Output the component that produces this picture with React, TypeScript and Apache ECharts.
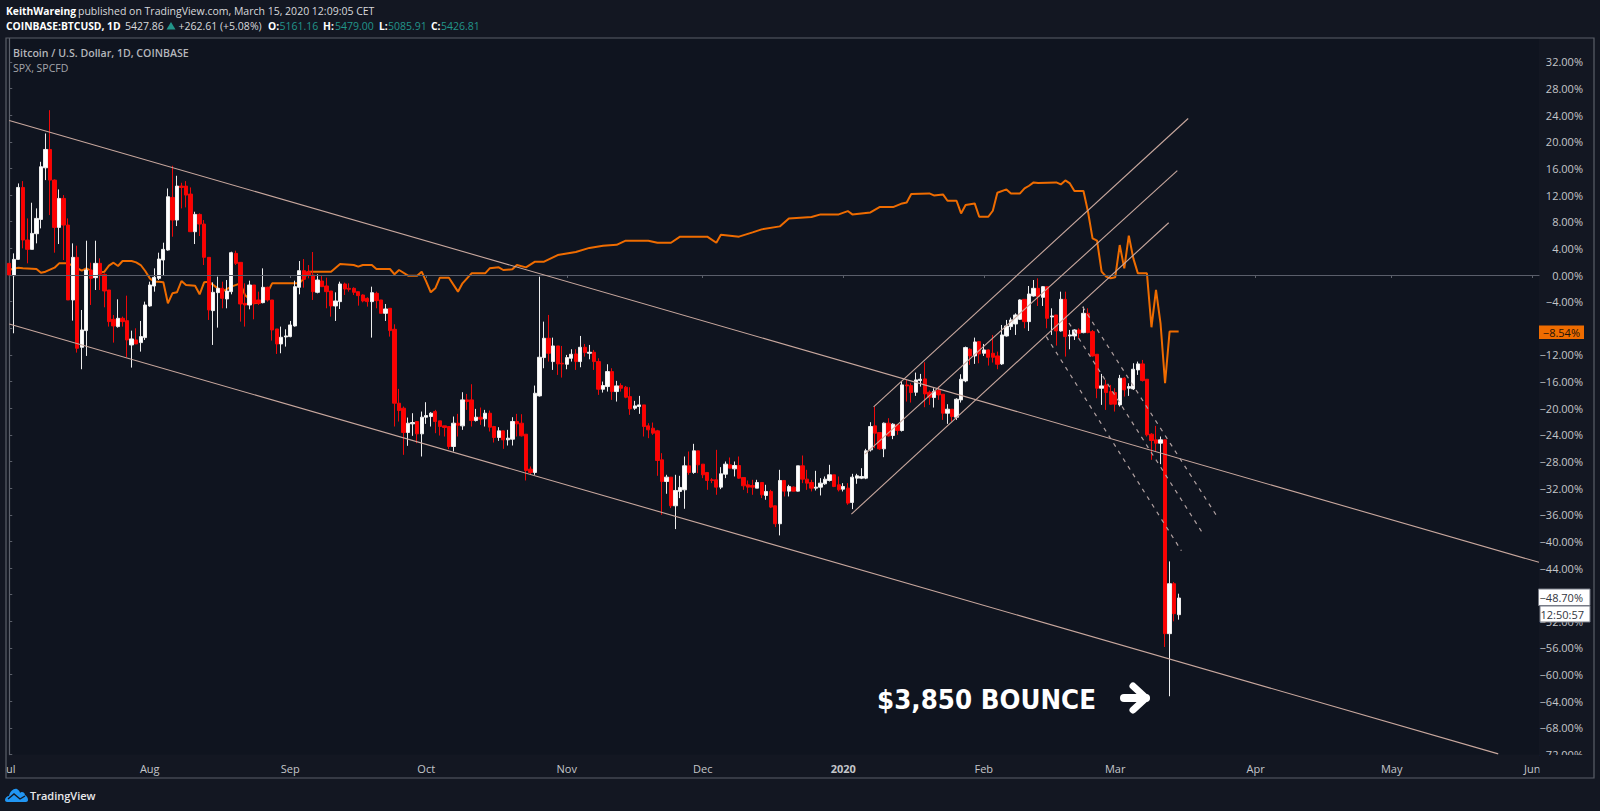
import React, { useEffect, useRef } from "react";
import * as echarts from "echarts";

// Candles are [open, close, low, high], in percent of the chart's base price, one per day from 1 Jul 2019.
const jul19 = [
[1.75,0,0,1.75],[-0.1,2.35,-8.75,3.25],[2.35,13.15,2.3,13.75],[13.15,5.25,4,14.1],[5.25,3.85,1.75,8.5],[3.85,6.25,3.85,10.85],[6.2,8.5,4.75,10],[8.35,16.25,7,17],[16.1,18.85,14.25,21.25],[18.85,14.25,9,24.75],
[14.25,7.15,3.35,14.35],[7.15,11.5,4.65,12.85],[11.5,7.5,2.25,12],[7.5,-3.75,-3.75,8.5],[-3.75,2.65,-6.85,4.75],[2.65,-11,-11.65,4.4],[-10.85,-8.25,-14.15,-5.25],[-8.35,0.75,-12.15,5.15],[0.75,-0.5,-4.5,1.85],[-0.4,1.75,-2.25,5.15],
[1.75,0.1,-2.25,2.5],[0.1,-2.4,-4.85,0.25],[-2.25,-7,-7.75,-2.25],[-6.65,-7.65,-10.15,-6],[-7.75,-6.5,-7.9,-3.65],[-6.5,-7,-7.75,-6.25],[-6.85,-9.75,-12.35,-3.1],[-10.5,-9.6,-13.9,-8.35],[-9.75,-10.35,-10.35,-8],[-10.15,-9.25,-11.5,-6.9],[-9.4,-4.5,-9.75,-4],
];
const aug19 = [
[-4.65,-1.5,-4.75,-1],[-1.65,-0.35,-2.5,1],[-0.5,2.4,-0.75,3.35],[2.25,3.85,-0.15,4.85],[3.75,11.75,3.65,13],[11.65,8.25,5.75,16.4],[8.25,13.35,7.35,14.9],[13.35,13.15,10,13.85],[13.35,12,10.15,14.1],[12.15,6.5,6.5,13.15],
[6.5,9.1,4.65,9.5],[9.1,7.65,5.85,9.25],[7.65,2.65,1.5,8.25],[2.65,-5.25,-6.75,2.65],[-5.35,-2.6,-10.5,-1.1],[-2.65,-2,-7.9,-0.25],[-2,-3.5,-5,-1],[-3.6,-2.4,-5,-0.75],[-2.5,3.35,-2.9,3.5],[3.25,1.75,1.5,3.65],
[1.9,-4.35,-7,1.9],[-4.25,-4.5,-7.75,-1.25],[-4.5,-1.5,-5.15,-0.85],[-1.5,-4.25,-6.65,-1.5],[-3.75,-4.25,-4.5,-2.5],[-4.15,-1.85,-4.25,1],[-1.85,-3.75,-4,-1.75],[-3.75,-8.25,-9.85,-3.75],[-8.1,-10.35,-11.85,-8.1],[-10.35,-9.35,-11.75,-7.75],[-9.3,-9.15,-10.75,-8.15],
];
const sep19 = [
[-9.25,-7.5,-9.35,-6.9],[-7.65,-1.75,-7.75,-0.85],[-1.85,0.65,-2.9,2.1],[0.65,-0.65,-1.9,2.4],[0.5,0,-0.5,1.5],[0,-2.5,-3.75,3.45],[-2.6,-0.75,-2.75,0.1],[-0.9,-1.75,-1.75,-0.15],[-1.65,-2.5,-5,-0.4],[-2.4,-4.65,-6.25,-2.4],
[-4.65,-3.9,-6.9,-2.6],[-4,-1.35,-5.1,-1],[-1.35,-2.1,-3,-1.15],[-2,-2.15,-2.5,-1.25],[-2,-2.6,-3,-1.85],[-2.5,-3.1,-4.6,-2.5],[-3,-3.9,-4.1,-2.9],[-3.5,-4,-4.75,-3.35],[-4,-2.65,-9.4,-1.75],[-2.75,-3.85,-5,-2.5],
[-3.75,-5.75,-5.75,-3.75],[-5.75,-5.1,-6.9,-4.35],[-5,-8.35,-9.25,-5],[-8.15,-19.25,-22.75,-7.4],[-19.25,-20.35,-22,-17.1],[-20,-23.65,-27,-19.75],[-23.65,-22.25,-25.65,-21.4],[-22.35,-22.15,-24.15,-20.75],[-22,-23.85,-25.25,-22],[-23.85,-21.35,-27.25,-20.5],
];
const oct19 = [
[-21.35,-21.1,-22.35,-19.1],[-21.25,-20.75,-22.75,-20.6],[-20.5,-22,-23.75,-20.25],[-21.9,-22.75,-24.1,-21.9],[-22.65,-22.9,-24.25,-22.65],[-22.75,-25.75,-26.15,-22.75],[-25.75,-22.25,-26.5,-21.25],[-22.25,-22.55,-24.25,-20.85],[-22.65,-18.75,-23.25,-17.6],[-18.75,-19,-20.25,-17.85],
[-18.75,-21.85,-22.75,-16.4],[-21.85,-21.35,-22,-20.1],[-21.35,-21.65,-22.5,-19.9],[-21.6,-20.75,-22.75,-20.25],[-20.75,-22.85,-23.5,-20.35],[-22.75,-24.4,-25.15,-22.65],[-24.4,-23.4,-24.9,-22.85],[-23.4,-24.75,-26.1,-23.4],[-24.75,-24.5,-25.6,-23.25],[-24.65,-22,-25.6,-21.35],
[-22,-22.35,-24.25,-20.85],[-22.25,-24.15,-24.25,-20.9],[-23.9,-29.35,-30.85,-23.9],[-29.15,-29.65,-30,-28.75],[-29.65,-17.75,-30,-16.6],[-18.15,-12.35,-18.25,-0.25],[-12.4,-9.5,-14,-7],[-9.5,-11.75,-13,-6],[-13,-10.65,-14.25,-9.4],[-10.65,-13.35,-15,-10.65],[-13.25,-13.35,-15.4,-10.65],
];
const nov19 = [
[-13.4,-12.4,-14.15,-12],[-12.5,-11.9,-13,-11.15],[-11.85,-13,-14.25,-11.15],[-13,-10.85,-13.85,-9.15],[-10.85,-11.65,-12.25,-10.35],[-11.75,-11.6,-12.65,-10.5],[-11.6,-13,-14.25,-11.25],[-13,-17.15,-18,-12.5],[-17.15,-16.6,-17.65,-16],[-16.75,-14.5,-17.5,-13.4],
[-14.5,-17.5,-18.75,-14],[-17.5,-16.65,-19,-15.9],[-16.6,-17,-17.5,-16.25],[-16.85,-18.35,-18.5,-16.65],[-18.25,-20.1,-21,-16.85],[-20,-19.65,-20.25,-18.9],[-19.75,-19.5,-20.85,-18.15],[-19.5,-22.75,-24.25,-19.5],[-22.65,-23.25,-24.5,-22.25],[-23,-23.75,-24,-22.15],
[-23.4,-27.85,-30.15,-23.25],[-27.75,-31,-36,-26.75],[-31,-30.35,-32.85,-30],[-30.35,-34.65,-35,-30.35],[-34.65,-32.35,-38.15,-30],[-32.5,-31.9,-33.5,-30.15],[-32.25,-28.65,-35.1,-27.25],[-28.65,-29.65,-30,-26.5],[-29.65,-26.4,-29.85,-25.35],[-26.4,-28.5,-29.75,-26.4],
];
const dec19 = [
[-28.4,-30,-30.5,-28.4],[-29.65,-30.85,-32.25,-29.65],[-30.75,-30.85,-31.25,-30.5],[-30.75,-31.85,-33,-26.25],[-31.85,-29.85,-32.15,-28.85],[-29.9,-28.4,-30.5,-28],[-28.5,-29,-29,-27.4],[-29.1,-28.6,-30.25,-28],[-28.6,-30.5,-30.6,-27.25],[-30.4,-31.65,-32.25,-30.4],
[-31.5,-31.85,-32.75,-30.85],[-31.6,-31.85,-33,-30.75],[-32,-31.15,-32,-30.75],[-31.15,-33,-33.5,-31.15],[-33.1,-32.5,-33.75,-31.5],[-32.5,-34.85,-35,-32.25],[-34.65,-37.35,-37.85,-34.65],[-37.35,-30.85,-39.1,-29.25],[-30.85,-32.45,-33.25,-30.85],[-32.45,-31.75,-33.25,-31.5],
[-31.85,-32.45,-32.5,-31.75],[-32.45,-28.65,-32.5,-28.65],[-28.65,-30.65,-31.25,-27.1],[-30.65,-31.25,-32.25,-29.25],[-31.15,-32,-32.5,-30.75],[-32,-31.85,-32.35,-29.4],[-31.85,-31.25,-33.1,-30.5],[-31.35,-30.65,-31.5,-30.25],[-30.85,-30,-31,-28.5],[-30,-31.75,-31.85,-30],[-31.5,-32.25,-32.5,-30.25],
];
const jan20 = [
[-32.15,-31.75,-32.5,-31.25],[-32,-34.25,-34.5,-31.25],[-34.15,-30.35,-35.15,-29.85],[-30.5,-30.15,-31.35,-29.85],[-30.5,-30.25,-30.65,-29],[-30.5,-26.4,-30.65,-26.1],[-26.25,-22.75,-26.5,-22.1],[-22.65,-23.75,-26,-19.75],[-23.65,-26.1,-26.25,-23.65],[-26.1,-22.25,-27.35,-22.15],
[-22.25,-24.15,-24.25,-21.5],[-24.1,-22.4,-24.65,-22.25],[-22.5,-23.35,-24,-22.35],[-23.35,-16.5,-23.5,-16],[-16.5,-16.65,-19,-15.75],[-16.6,-17.65,-19.15,-16.25],[-17.6,-15.75,-18.15,-14.65],[-15.85,-15.65,-16.75,-14.85],[-15.6,-17.85,-19.85,-13.1],[-17.6,-18.35,-19.5,-17.35],
[-18.4,-17.5,-19.9,-17],[-17.35,-18,-18.75,-16.75],[-17.9,-20.75,-21.75,-17.9],[-20.75,-20.15,-22.35,-19.4],[-20.15,-21.25,-22,-20.15],[-21.35,-18.65,-21.75,-18.5],[-18.75,-15.65,-19.15,-14.9],[-15.9,-10.9,-16.1,-10.75],[-11.15,-12.15,-13.5,-11],[-12.15,-10.05,-13.35,-9.4],[-10,-11.85,-13.25,-9.9],
];
const feb20 = [
[-11.75,-11.25,-12.15,-10.35],[-11.25,-12.35,-13.6,-11.15],[-11.75,-12.35,-13.15,-9],[-12.15,-13.4,-14.15,-11.5],[-13.35,-9,-13.5,-7.5],[-9.15,-7.65,-9.25,-6.75],[-7.75,-6.75,-8.25,-6.4],[-7.35,-6,-9,-5.75],[-6.65,-3.75,-6.75,-3.65],[-3.65,-7,-8,-3.65],
[-7,-2.85,-8.4,-1.65],[-3.15,-2,-3.25,-0.75],[-2,-3.25,-4.65,-0.5],[-3.35,-1.75,-4.65,-1.65],[-1.75,-6.5,-8,-1.75],[-6.3,-6.15,-9,-5],[-6,-8.4,-10.6,-6],[-8.4,-3.65,-8.5,-2.5],[-3.65,-9.25,-12.25,-2.5],[-9.15,-9,-11.15,-8.25],
[-9.15,-8.25,-9.75,-8.15],[-8.25,-8.75,-9.5,-8],[-8.65,-5.75,-8.75,-4.75],[-5.75,-8.65,-8.75,-5],[-8.5,-12.15,-12.25,-8.25],[-11.9,-17,-18.5,-11.9],[-17,-16.65,-19.5,-14.85],[-16.5,-17.65,-20.25,-15.75],[-17.5,-19.4,-19.5,-16.5],
];
const mar20 = [
[-17.65,-19.4,-20.5,-17],[-19.5,-15.5,-19.75,-15],[-15.5,-17.25,-18.25,-15.35],[-17,-16.75,-18.15,-16.25],[-17.1,-14.15,-17.25,-13.25],[-14.25,-13.35,-15,-13],[-13.35,-15.85,-16,-12.75],[-15.65,-24,-24.25,-15.65],[-23.9,-24.85,-27.75,-23.75],[-24.75,-25.25,-26.5,-22.65],
[-25.25,-24.75,-28.4,-24.25],[-24.75,-53.85,-55.85,-24.75],[-53.85,-46.35,-63.25,-43],[-46.35,-50.85,-52,-46.1],[-51,-48.5,-51.75,-47.85],
];
const candles = [...jul19, ...aug19, ...sep19, ...oct19, ...nov19, ...dec19, ...jan20, ...feb20, ...mar20];

// SPX overlay: day index from 1 Jul 2019, percent.
const spxDays = [0,2,3,6,7,8,10,11,13,16,17,18,19,21,22,23,24,25,27,28,29,30,31,32,33,34,35,36,37,38,39,41,42,43,44,46,47,49,51,52,54,56,58,62,64,65,66,71,73,76,77,78,80,81,84,85,86,88,90,91,92,93,94,95,97,99,100,102,105,106,108,109,111,112,114,116,118,121,125,128,131,134,136,141,143,146,148,154,156,157,161,164,166,170,172,177,179,183,185,186,190,192,195,197,198,199,203,204,206,207,209,210,211,213,214,216,217,218,220,221,223,224,225,226,227,231,232,233,234,235,237,238,239,240,241,242,243,244,245,246,247,248,249,251,252,253,254,255,256,258];
const spxValues = [0.8,1.1,1,0.9,0.35,0.5,1.1,1.75,1.75,0.65,1,0.65,0.25,0.5,1.4,1.85,1.35,2.1,2.1,1.9,1.5,0.6,-0.5,-1,-1,-1.1,-4.25,-2.75,-2.6,-0.9,-1.5,-1.6,-2.9,-1.1,-1,-2,-2.5,-1.75,-1.25,-3,-4.25,-4,-1.25,-1.25,-1.25,-0.5,0.5,0.5,1.65,1.5,1.25,1.5,1.5,0.9,0.9,0.1,0.75,-0.1,-0.1,0.5,-1,-2.6,-2,-0.4,-0.4,-2.5,-1.25,0.25,0.25,1,1.15,0.75,0.85,1.5,1.15,2,2,3,3.46,4.07,4.38,4.53,5.15,5.15,4.84,4.84,5.76,5.76,4.84,6.06,5.76,6.4,6.85,7.3,8.5,8.7,9.1,9.1,9.6,9.1,9.4,10.2,10.2,10.75,10.9,12.15,12.25,11.95,12.1,11.15,11.15,9.25,10.5,10.75,8.75,8.75,9.65,12.35,12.85,12.25,12.25,13,13.4,13.9,13.8,13.9,13.6,14.2,13.75,12.6,12.6,9.5,5.5,5.15,0.5,-0.25,-0.5,-0.35,4.5,1,5.9,2.5,0.25,0.25,-7.85,-2.25,-7.25,-16.25,-8.5,-8.5];

// Drawn trend lines: [day, percent] at each end.
const trendSolid = [
  [[0, 23.2], [337.5, -43.14]],
  [[0, -7.36], [328.5, -71.9]],
  [[185.8, -35.9], [255.8, 7.85]],
  [[188.8, -26.9], [257.7, 15.66]],
  [[190.7, -19.8], [260.1, 23.5]],
];
const trendDashed = [
  [[236.8, -4.76], [266.8, -36.6]],
  [[233.8, -7.2], [263.6, -39.1]],
  [[228.8, -9.26], [258.6, -41.4]],
];

const monthDays = [0, 31, 62, 92, 123, 153, 184, 215, 244, 275, 305, 336];
const monthNames = ["Jul", "Aug", "Sep", "Oct", "Nov", "Dec", "{b|2020}", "Feb", "Mar", "Apr", "May", "Jun"];

const PAGE = "#131722";
const PLOT = "#0f141f";
const FRAME = "#5b5f69";
const TEXT = "#c4c6ca";
const TEAL = "#22958a";
const ORANGE = "#ef6c00";
const TREND = "#c9a89e";
const FONT = '"Open Sans", sans-serif';

echarts.graphic.registerShape(
  "tvcloud",
  echarts.graphic.extendPath(
    "M0 12 C0 10 2 8 4 8 C5 3 9 0 12 1 C14 2 15 4 15 5 C16 3 20 4 20 7 C22 8 23 10 23 12 C23 13 22 14 21 14 L2 14 C1 14 0 13 0 12 Z",
    {}
  )
);

const txt = (x: number, y: number, text: string, fill: string, font: string, align = "left") => ({
  type: "text",
  x,
  y,
  z: 100,
  silent: true,
  style: { text, fill, font, textAlign: align, textVerticalAlign: "middle" },
});

export default function App() {
  const ref = useRef<HTMLDivElement>(null);
  useEffect(() => {
    document.body.style.margin = "0";
    document.body.style.background = PAGE;
    const chart = echarts.init(ref.current!, undefined, { renderer: "svg" });
    const lineSeries = (pts: number[][], dashed: boolean) => ({
      type: "line",
      data: pts,
      showSymbol: false,
      silent: true,
      z: 6,
      lineStyle: dashed
        ? { color: "#b0a0a0", width: 1.2, type: [4, 5] }
        : { color: TREND, width: 1.1 },
    });
    chart.setOption({
      animation: false,
      backgroundColor: PAGE,
      textStyle: { fontFamily: FONT },
      grid: {
        left: 6,
        right: 61,
        top: 35.24,
        height: 719.3,
        show: true,
        backgroundColor: PLOT,
        borderWidth: 0,
      },
      xAxis: {
        type: "value",
        min: 0,
        max: 337.5,
        splitLine: { show: false },
        axisLine: { show: true, lineStyle: { color: FRAME, width: 1.2 } },
        axisTick: { show: true, length: 3, customValues: monthDays, lineStyle: { color: FRAME } },
        axisLabel: {
          customValues: monthDays,
          hideOverlap: false,
          color: TEXT,
          fontSize: 11,
          fontFamily: FONT,
          margin: 8,
          formatter: (v: number) => monthNames[monthDays.indexOf(v)] ?? "",
          rich: { b: { fontWeight: "bold", fontSize: 11, color: TEXT, fontFamily: FONT } },
        },
      },
      yAxis: {
        type: "value",
        position: "right",
        min: -72,
        max: 36,
        interval: 4,
        splitLine: { show: false },
        axisLine: { show: true, lineStyle: { color: FRAME, width: 1.2 } },
        axisTick: { show: true, length: 3, lineStyle: { color: FRAME } },
        axisLabel: {
          color: TEXT,
          fontSize: 11,
          fontFamily: FONT,
          align: "right",
          margin: 44,
          formatter: (v: number) =>
            v === 36 || v === -8 ? "" : (v < 0 ? "\u2212" : "") + Math.abs(v).toFixed(2) + "%",
        },
      },
      series: [
        {
          type: "line",
          data: spxDays.map((d, i) => [d, spxValues[i]]),
          showSymbol: false,
          silent: true,
          z: 3,
          lineStyle: { color: ORANGE, width: 2 },
          markLine: {
            silent: true,
            symbol: "none",
            label: { show: false },
            lineStyle: { color: "#5a5e6a", width: 1.2, type: "solid" },
            data: [{ yAxis: 0 }],
          },
        },
        {
          type: "candlestick",
          data: candles.map((c, i) => [i, c[0], c[1], c[2], c[3]]),
          barWidth: 3.8,
          silent: true,
          z: 4,
          itemStyle: {
            color: "#ffffff",
            color0: "#ff0000",
            borderColor: "#eeeeee",
            borderColor0: "#ee0808",
            borderWidth: 1,
          },
        },
        ...trendSolid.map((p) => lineSeries(p, false)),
        ...trendDashed.map((p) => lineSeries(p, true)),
      ],
      graphic: [
        // masks outside the plot, so clipped labels read as in the reference
        { type: "rect", z: 50, silent: true, shape: { x: 0, y: 0, width: 1600, height: 38 }, style: { fill: PAGE } },
        { type: "rect", z: 50, silent: true, shape: { x: 0, y: 38, width: 6, height: 773 }, style: { fill: PAGE } },
        { type: "rect", z: 50, silent: true, shape: { x: 1539.6, y: 755, width: 60, height: 56 }, style: { fill: PAGE } },
        { type: "rect", z: 50, silent: true, shape: { x: 0, y: 778, width: 1600, height: 33 }, style: { fill: PAGE } },
        { type: "rect", z: 51, silent: true, shape: { x: 1594, y: 38, width: 6, height: 773 }, style: { fill: PAGE } },
        { type: "rect", z: 52, silent: true, shape: { x: 6, y: 38, width: 1588, height: 740 }, style: { fill: "none", stroke: FRAME, lineWidth: 1.2 } },

        txt(6, 11, "KeithWareing", "#ffffff", `bold 10.3px ${FONT}`),
        txt(78, 11, "published on TradingView.com, March 15, 2020 12:09:05 CET", "#d8d9dc", `10.5px ${FONT}`),
        txt(6, 26, "COINBASE:BTCUSD, 1D", "#ffffff", `bold 10.3px ${FONT}`),
        txt(125, 26, "5427.86", "#d8d9dc", `10.5px ${FONT}`),
        { type: "polygon", z: 100, silent: true, shape: { points: [[171, 22], [175.5, 29.5], [166.5, 29.5]] }, style: { fill: TEAL } },
        txt(178.5, 26, "+262.61 (+5.08%)", "#d8d9dc", `10.5px ${FONT}`),
        txt(268, 26, "O:", "#ffffff", `bold 10.3px ${FONT}`),
        txt(279.5, 26, "5161.16", TEAL, `10.5px ${FONT}`),
        txt(323, 26, "H:", "#ffffff", `bold 10.3px ${FONT}`),
        txt(335, 26, "5479.00", TEAL, `10.5px ${FONT}`),
        txt(379, 26, "L:", "#ffffff", `bold 10.3px ${FONT}`),
        txt(388, 26, "5085.91", TEAL, `10.5px ${FONT}`),
        txt(431, 26, "C:", "#ffffff", `bold 10.3px ${FONT}`),
        txt(441, 26, "5426.81", TEAL, `10.5px ${FONT}`),

        txt(13, 53, "Bitcoin / U.S. Dollar, 1D, COINBASE", "#b4b6bb", `600 10.6px ${FONT}`),
        txt(13, 68, "SPX, SPCFD", "#a4a6ab", `10.5px ${FONT}`),

        // price tags on the scale
        { type: "rect", z: 60, silent: true, shape: { x: 1539, y: 325.5, width: 45, height: 13.5 }, style: { fill: ORANGE } },
        txt(1580, 332.2, "\u22128.54%", "#1c1208", `11px ${FONT}`, "right"),
        { type: "rect", z: 60, silent: true, shape: { x: 1538.5, y: 589, width: 51.5, height: 16.5 }, style: { fill: "#ffffff", stroke: "#777b85", lineWidth: 1 } },
        txt(1583, 597.5, "\u221248.70%", "#333640", `11px ${FONT}`, "right"),
        { type: "rect", z: 60, silent: true, shape: { x: 1540, y: 606, width: 50, height: 16 }, style: { fill: "#ffffff", stroke: "#777b85", lineWidth: 1 } },
        txt(1584, 614, "12:50:57", "#333640", `11px ${FONT}`, "right"),

        { ...txt(877, 700, "$3,850 BOUNCE", "#ffffff", 'bold 26px "DejaVu Sans", sans-serif'), scaleX: 0.948 },
        { type: "polyline", z: 100, silent: true, shape: { points: [[1124, 698], [1146, 698]] }, style: { stroke: "#ffffff", fill: "none", lineWidth: 8, lineCap: "round" } },
        { type: "polyline", z: 100, silent: true, shape: { points: [[1133, 686], [1146, 698], [1133, 710]] }, style: { stroke: "#ffffff", fill: "none", lineWidth: 7, lineCap: "round", lineJoin: "round" } },

        { type: "tvcloud", z: 100, x: 5, y: 788, silent: true, style: { fill: "#2196f3" } },
        { type: "polyline", z: 101, silent: true, shape: { points: [[8, 799], [14, 794], [20, 799], [25, 796]] }, style: { stroke: PAGE, fill: "none", lineWidth: 1.4 } },
        txt(30, 795.5, "TradingView", "#e8e9eb", `600 11px ${FONT}`),
      ],
    });
    return () => chart.dispose();
  }, []);
  return <div ref={ref} style={{ position: "absolute", left: 0, top: 0, width: 1600, height: 811 }} />;
}
